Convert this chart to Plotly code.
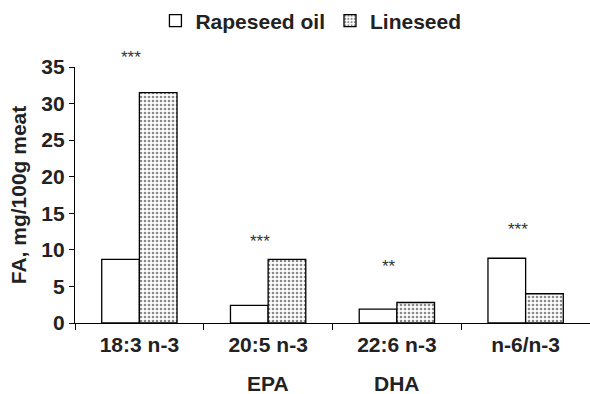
import plotly.graph_objects as go

categories = ["18:3 n-3", "20:5 n-3", "22:6 n-3", "n-6/n-3"]
rapeseed = [8.7, 2.4, 1.9, 8.85]
lineseed = [31.5, 8.7, 2.8, 4.0]
sig_labels = ["***", "***", "**", "***"]
sig_y = [36.7, 11.5, 8.1, 13.2]
sub_labels = ["", "EPA", "DHA", ""]
y_ticks = [0, 5, 10, 15, 20, 25, 30, 35]

FONT = "Liberation Sans, Arial, Helvetica, sans-serif"
YMAX = 35

fig = go.Figure()
fig.add_trace(go.Bar(
    x=categories, y=rapeseed, name="Rapeseed oil",
    marker=dict(color="white", line=dict(color="black", width=1.3)),
))
fig.add_trace(go.Bar(
    x=categories, y=lineseed, name="Lineseed",
    marker=dict(color="white", line=dict(color="black", width=1.3),
                pattern=dict(shape=".", fgcolor="#111", bgcolor="white",
                             size=4, solidity=0.35)),
))

for c, s, yv in zip(categories, sig_labels, sig_y):
    fig.add_annotation(x=c, y=yv / YMAX, yref="paper", text=s, showarrow=False,
                       xshift=-8, yshift=-3, yanchor="middle",
                       font=dict(family=FONT, size=17, color="#333", weight="normal"))

for c, s in zip(categories, sub_labels):
    if s:
        fig.add_annotation(x=c, y=-0.235, yref="paper", text=s, showarrow=False,
                           yanchor="middle",
                           font=dict(family=FONT, size=21, color="#222", weight="bold"))

fig.update_layout(
    width=590, height=394, autosize=False,
    margin=dict(l=75, r=0, t=67, b=71),
    paper_bgcolor="white", plot_bgcolor="white",
    barmode="group", bargap=0.415, bargroupgap=0,
    font=dict(family=FONT, size=21, color="#222", weight="bold"),
    showlegend=True,
    legend=dict(orientation="h", xref="container", yref="container",
                x=0.527, y=0.947, xanchor="center", yanchor="middle",
                font=dict(family=FONT, size=21, color="#222", weight="bold"),
                traceorder="normal"),
    xaxis=dict(showline=True, linecolor="black", linewidth=1.3,
               ticks="outside", tickson="boundaries", ticklen=6, tickcolor="black",
               tickfont=dict(family=FONT, size=21, color="#222", weight="bold"),
               ticklabelstandoff=3,
               showgrid=False, zeroline=False, automargin=False),
    yaxis=dict(range=[0, YMAX], tickvals=y_ticks, showline=True, linecolor="black",
               linewidth=1.3, ticks="outside", ticklen=5, tickcolor="black",
               tickfont=dict(family=FONT, size=21, color="#222", weight="bold"),
               showgrid=False, zeroline=False, automargin=False,
               title=dict(text="FA, mg/100g meat", standoff=8,
                          font=dict(family=FONT, size=21, color="#222", weight="bold"))),
)

fig.write_html("out.html", config={"displayModeBar": False},
               post_script="document.body.style.margin='0';document.body.style.overflow='hidden';")
